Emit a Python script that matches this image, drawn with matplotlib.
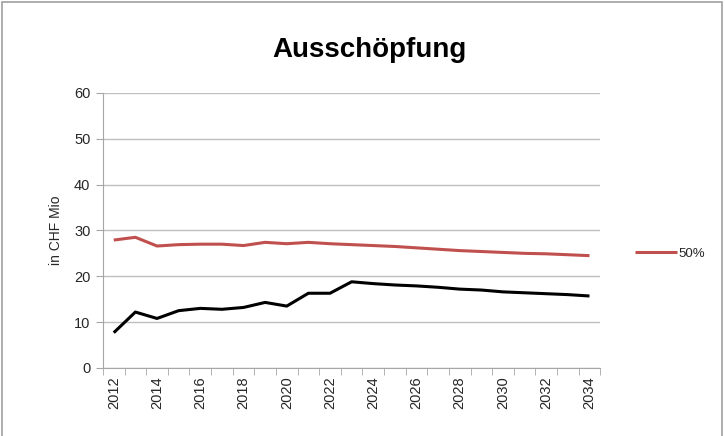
import matplotlib.pyplot as plt
from matplotlib.patches import Rectangle

years = list(range(2012, 2035))
red_50 = [27.9, 28.5, 26.6, 26.9, 27.0, 27.0, 26.7, 27.4, 27.1, 27.4, 27.1, 26.9,
          26.7, 26.5, 26.2, 25.9, 25.6, 25.4, 25.2, 25.0, 24.9, 24.7, 24.5]
black_line = [7.7, 12.2, 10.8, 12.5, 13.0, 12.8, 13.2, 14.3, 13.5, 16.3, 16.3, 18.8,
              18.4, 18.1, 17.9, 17.6, 17.2, 17.0, 16.6, 16.4, 16.2, 16.0, 15.7]
yticks = [0, 10, 20, 30, 40, 50, 60]

font = ["Liberation Sans", "DejaVu Sans"]
plt.rcParams["font.family"] = font

fig = plt.figure(figsize=(7.25, 4.36), dpi=100)
ax = fig.add_axes([0.142, 0.156, 0.686, 0.631])

x = list(range(len(years)))
ax.plot(x, black_line, color="black", lw=2.2, solid_capstyle="butt")
ax.plot(x, red_50, color="#C0504D", lw=2.2, label="50%", solid_capstyle="butt")

ax.set_xlim(-0.5, len(years) - 0.5)
ax.set_ylim(0, 60)
ax.set_yticks(yticks)
ax.yaxis.grid(True, color="#BFBFBF", lw=1)
ax.set_axisbelow(True)

ax.set_xticks(x[::2])
ax.set_xticklabels([str(y) for y in years[::2]], rotation=90, fontsize=10.5, color="#262626")
ax.set_xticks([i - 0.5 for i in range(len(years) + 1)], minor=True)
ax.tick_params(axis="x", which="major", length=0, pad=6)
ax.tick_params(axis="x", which="minor", length=5, color="#A6A6A6", direction="out")
ax.tick_params(axis="y", length=5, color="#A6A6A6", labelsize=10.5, labelcolor="#262626", pad=4)

for side in ["top", "right"]:
    ax.spines[side].set_visible(False)
for side in ["left", "bottom"]:
    ax.spines[side].set_color("#A6A6A6")

ax.set_ylabel("in CHF Mio", fontsize=10, color="#262626", labelpad=8)
fig.text(0.51, 0.885, "Ausschöpfung", ha="center", va="center",
         fontsize=20, fontweight="bold", color="black")

ax.legend(loc="center left", bbox_to_anchor=(1.045, 0.415), frameon=False,
          handlelength=3.2, handletextpad=0.1, fontsize=9.5, labelcolor="#262626")

fig.patches.append(Rectangle((0.003, -0.01), 0.993, 1.005, transform=fig.transFigure,
                             fill=False, edgecolor="#A0A0A0", lw=1.2))

fig.savefig("out.png", dpi=100)
